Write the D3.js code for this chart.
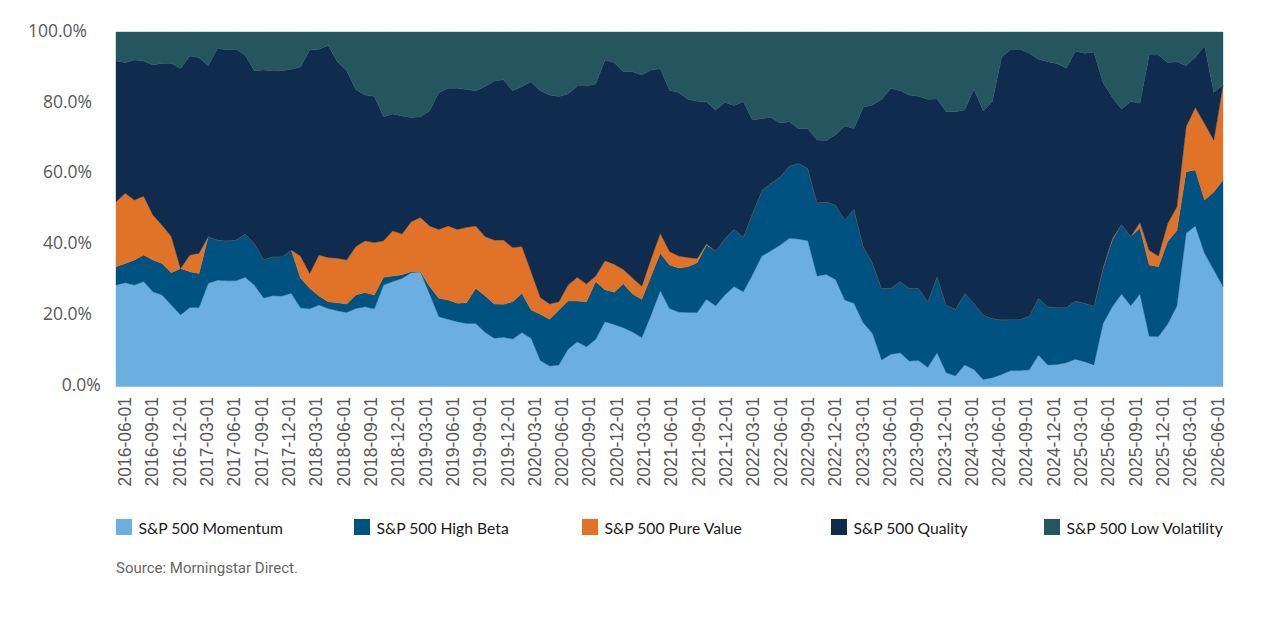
<!DOCTYPE html>
<html>
<head>
<meta charset="utf-8">
<script src="https://cdnjs.cloudflare.com/ajax/libs/d3/7.8.5/d3.min.js"></script>
<style>
  body { margin: 0; background: #fff; }
</style>
</head>
<body>
<div id="chart"></div>
<script>
// Data (share of each index, %, monthly from 2016-06 to 2026-06)
// ==============================
var seriesNames = ["S&P 500 Momentum", "S&P 500 High Beta", "S&P 500 Pure Value", "S&P 500 Quality", "S&P 500 Low Volatility"];
var seriesColors = ["#6aafe0", "#005381", "#e07328", "#0f2c4f", "#25555f"];

var momentum = [28.6,29.3,28.6,29.6,26.7,25.8,23.0,20.2,22.3,22.3,29.1,30.0,29.8,29.8,30.8,28.6,25.0,25.6,25.5,26.3,
  22.2,21.9,23.0,22.0,21.4,20.9,22.0,22.5,21.9,28.6,29.6,30.5,32.1,32.4,26.1,19.7,19.0,18.3,17.8,17.8,
  15.3,13.6,13.9,13.4,15.2,13.6,7.3,5.8,6.1,10.5,12.6,11.2,13.3,18.3,17.5,16.6,15.4,13.8,20.2,27.0,
  22.0,21.0,20.9,20.9,24.6,22.8,25.8,28.2,26.7,31.5,36.8,38.3,39.9,41.8,41.6,41.1,31.2,31.6,30.2,24.4,
  23.5,18.0,15.0,7.5,9.1,9.5,7.2,7.3,5.4,9.5,3.9,3.0,6.1,4.8,2.0,2.5,3.4,4.5,4.5,4.7,
  8.9,6.1,6.2,6.7,7.7,7.0,6.1,17.8,22.5,26.1,22.8,26.1,14.2,14.1,17.6,22.7,43.2,45.3,37.6,32.9,
  28.2];
var highBeta = [5.2,5.4,7.1,7.5,9.0,8.9,9.1,13.1,10.1,9.6,13.2,11.3,11.3,11.5,12.2,11.8,10.9,11.0,11.1,12.2,
  8.4,5.8,2.5,1.9,2.2,2.4,3.8,4.0,3.9,2.2,1.6,1.0,0.3,0.0,2.1,5.2,5.4,5.2,5.8,9.9,
  10.3,9.7,9.3,10.5,11.1,8.0,13.1,13.2,15.5,13.6,11.5,12.7,16.3,9.0,9.1,12.4,10.7,10.8,10.9,10.6,
  12.3,12.4,12.9,14.0,15.3,15.4,15.9,16.1,15.5,17.4,18.4,19.0,19.3,20.4,21.3,20.4,20.6,20.5,21.0,22.6,
  26.6,21.5,19.9,20.2,18.6,20.1,20.5,20.4,18.5,21.5,19.1,18.8,20.2,18.7,18.2,16.7,15.4,14.4,14.4,15.2,
  16.0,16.4,16.1,15.6,16.4,16.5,16.6,15.5,18.8,19.7,19.5,18.6,20.1,19.7,23.3,21.3,17.4,15.8,15.0,22.0,
  30.0];
var pureValue = [18.3,19.8,16.9,16.6,12.7,10.8,10.2,0.0,4.7,5.7,0.0,0.0,0.0,0.0,0.0,0.0,0.0,0.0,0.0,0.0,
  6.2,4.2,11.6,12.5,12.6,12.4,13.7,14.6,14.8,10.3,12.7,11.5,14.1,15.3,17.1,19.4,20.9,20.8,21.3,17.6,
  16.7,18.0,18.1,15.3,13.2,10.8,4.7,4.3,2.3,4.5,6.7,5.0,1.6,8.2,7.9,4.0,4.5,3.7,4.9,5.6,
  3.8,3.4,2.6,1.2,0.3,0.0,0.0,0.0,0.0,0.0,0.0,0.0,0.0,0.0,0.0,0.0,0.0,0.0,0.0,0.0,
  0.0,0.0,0.0,0.0,0.0,0.0,0.0,0.0,0.0,0.0,0.0,0.0,0.0,0.0,0.0,0.0,0.0,0.0,0.0,0.0,
  0.0,0.0,0.0,0.0,0.0,0.0,0.0,0.3,0.4,0.0,0.0,1.6,4.1,3.0,5.1,6.7,12.7,17.6,21.6,14.6,
  26.8];
var quality = [39.7,36.9,39.5,38.1,42.3,45.7,48.9,56.4,56.1,55.2,48.2,54.1,53.8,53.8,50.5,48.7,53.4,52.4,52.5,51.0,
  53.3,63.0,58.0,59.8,55.4,53.4,44.3,41.1,41.3,35.0,33.0,33.3,29.4,28.4,32.5,38.6,38.8,39.8,38.9,38.1,
  42.3,44.9,45.2,44.2,45.1,53.6,58.3,58.9,57.9,53.9,54.0,55.9,54.1,56.6,56.9,55.8,58.2,59.6,53.3,46.4,
  45.5,46.1,44.6,44.4,40.1,39.8,38.4,35.0,38.1,26.3,20.4,18.6,15.1,12.5,9.8,11.2,17.7,17.3,19.8,26.5,
  22.7,39.3,44.5,53.3,56.4,53.8,54.5,54.2,57.1,50.1,54.5,55.7,51.7,60.4,57.6,61.2,74.1,76.2,76.2,74.1,
  67.4,69.1,68.8,67.5,70.5,70.5,71.6,52.1,39.9,32.4,38.1,33.6,55.1,56.7,45.4,40.9,17.2,14.2,21.9,13.5,
  0.0];
var lowVolatility = [8.2,8.6,7.9,8.2,9.3,8.8,8.8,10.3,6.8,7.2,9.5,4.6,5.1,4.9,6.5,10.9,10.7,11.0,10.9,10.5,
  9.9,5.1,4.9,3.8,8.4,10.9,16.2,17.8,18.1,23.9,23.1,23.7,24.1,23.9,22.2,17.1,15.9,15.9,16.2,16.6,
  15.4,13.8,13.5,16.6,15.4,14.0,16.6,17.8,18.2,17.5,15.2,15.2,14.7,7.9,8.6,11.2,11.2,12.1,10.7,10.4,
  16.4,17.1,19.0,19.5,19.7,22.0,19.9,20.7,19.7,24.8,24.4,24.1,25.7,25.3,27.3,27.3,30.5,30.6,29.0,26.5,
  27.2,21.2,20.6,19.0,15.9,16.6,17.8,18.1,19.0,18.9,22.5,22.5,22.0,16.1,22.2,19.6,7.1,4.9,4.9,6.0,
  7.7,8.4,8.9,10.2,5.4,6.0,5.7,14.3,18.4,21.8,19.6,20.1,6.5,6.5,8.6,8.4,9.5,7.1,3.9,17.0,
  15.0];

var yTicks = [0, 20, 40, 60, 80, 100];

var formatDate = d3.timeFormat("%Y-%m-%d");
var months = d3.timeMonth.range(new Date(2016, 5, 1), new Date(2026, 6, 1)).map(formatDate);
var tickMonths = months.filter(function(d, i) { return i % 3 === 0; });

var seriesValues = [momentum, highBeta, pureValue, quality, lowVolatility];
var table = months.map(function(m, i) {
  var row = { month: m };
  seriesNames.forEach(function(name, k) { row[name] = seriesValues[k][i]; });
  return row;
});

// Sizes
// ==============================
var svgWidth = 1280;
var svgHeight = 624;
var plot = { left: 116, right: 1223, top: 32, bottom: 386.5 };

var svg = d3.select("#chart")
  .append("svg")
  .attr("width", svgWidth)
  .attr("height", svgHeight);

// Scales
// ==============================
var x = d3.scalePoint()
  .domain(months)
  .range([plot.left, plot.right]);

// the tick labels sit on a slightly narrower run than the data
var xLabels = d3.scalePoint()
  .domain(months)
  .range([124.5, 1217]);

var y = d3.scaleLinear()
  .domain([0, 100])
  .range([plot.bottom, plot.top]);

// Stacked areas
// ==============================
var stack = d3.stack().keys(seriesNames);
var layers = stack(table);

var area = d3.area()
  .x(function(d) { return x(d.data.month); })
  .y0(function(d) { return y(d[0]); })
  .y1(function(d) { return y(Math.min(100, d[1])); });

svg.append("g")
  .selectAll("path")
  .data(layers)
  .enter()
  .append("path")
  .attr("d", area)
  .attr("fill", function(d, i) { return seriesColors[i]; })
  .attr("stroke", function(d, i) { return seriesColors[i]; })
  .attr("stroke-width", 0.4);

// Y axis
// ==============================
var leftAxis = d3.axisLeft(y)
  .tickValues(yTicks)
  .tickFormat(function(d) { return d.toFixed(1) + "%"; })
  .tickSize(0)
  .tickPadding(0);

var yAxis = svg.append("g")
  .attr("transform", "translate(92,0)")
  .call(leftAxis);
yAxis.select(".domain").remove();
yAxis.selectAll("text")
  .attr("y", -1.5)
  .attr("dx", function(d) { return d === 100 ? -5 : (d === 0 ? 8.7 : 0); })
  .style("font-family", "'Open Sans', sans-serif")
  .style("font-size", "17.5px")
  .style("fill", "#595959");

// X axis
// ==============================
var bottomAxis = d3.axisBottom(xLabels)
  .tickValues(tickMonths)
  .tickSize(0)
  .tickPadding(0);

var xAxis = svg.append("g")
  .attr("transform", "translate(0,397)")
  .call(bottomAxis);
xAxis.select(".domain").remove();
xAxis.selectAll("text")
  .attr("x", 0)
  .attr("y", 0)
  .attr("dy", "0.35em")
  .attr("transform", "rotate(-90)")
  .attr("text-anchor", "end")
  .style("font-family", "'Liberation Sans', Arial, sans-serif")
  .style("font-size", "17.5px")
  .style("fill", "#595959");

// Legend
// ==============================
var legendX = [116, 354, 582, 831, 1044];

var legend = svg.append("g")
  .selectAll("g")
  .data(seriesNames)
  .enter()
  .append("g")
  .attr("transform", function(d, i) { return "translate(" + legendX[i] + ",519)"; });

legend.append("rect")
  .attr("width", 16)
  .attr("height", 16)
  .attr("fill", function(d, i) { return seriesColors[i]; });

legend.append("text")
  .attr("x", 22.5)
  .attr("y", 14.5)
  .text(function(d) { return d; })
  .style("font-family", "Lato, sans-serif")
  .style("font-size", "15.7px")
  .style("fill", "#1a1a1a");

// Source note
svg.append("text")
  .attr("x", 116)
  .attr("y", 573)
  .text("Source: Morningstar Direct.")
  .style("font-family", "Roboto, sans-serif")
  .style("font-size", "15px")
  .style("fill", "#666");
</script>
</body>
</html>
